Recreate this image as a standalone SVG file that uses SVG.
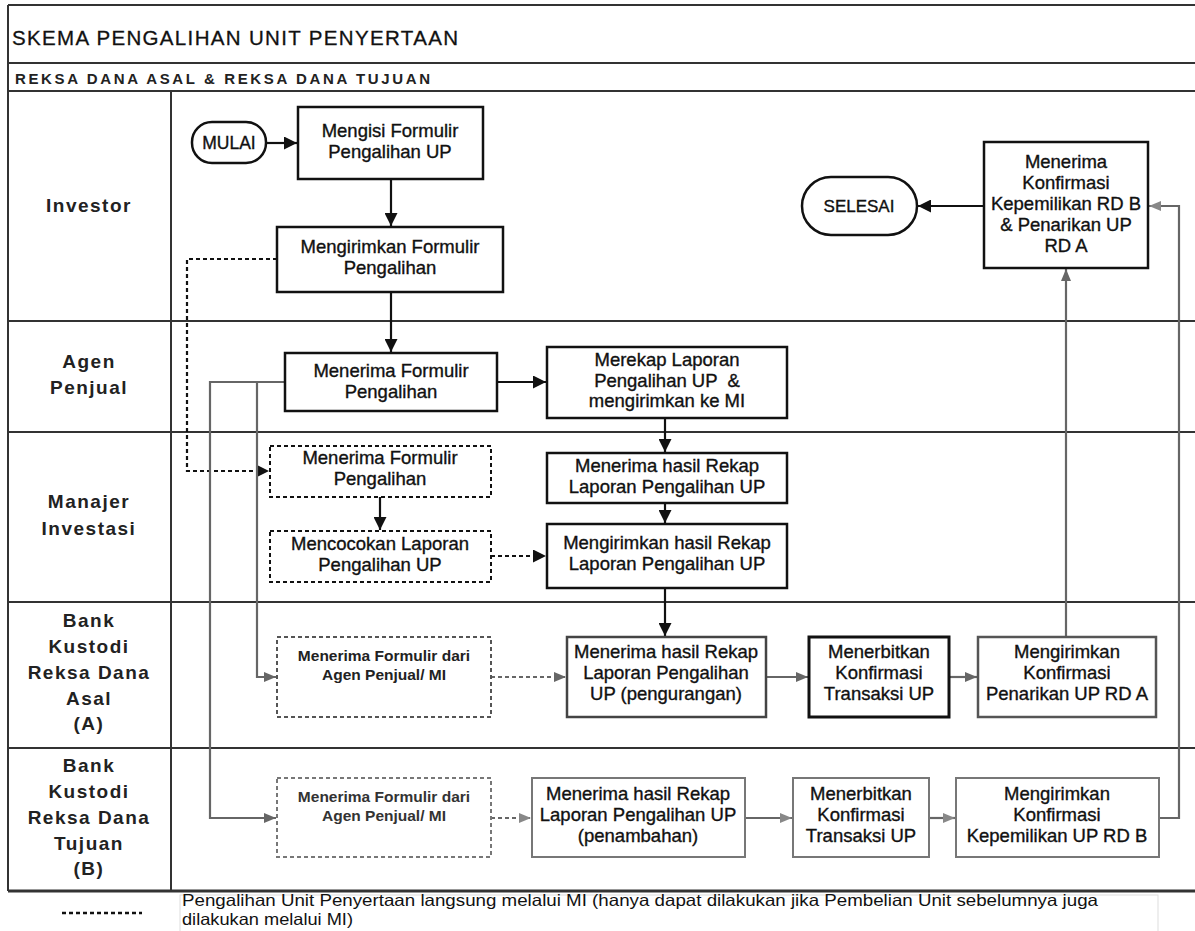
<svg xmlns="http://www.w3.org/2000/svg" width="1195" height="931" viewBox="0 0 1195 931">
<style>
text{font-family:"Liberation Sans",Arial,sans-serif;fill:#111}
.lane{font-size:19px;font-weight:bold;letter-spacing:1.5px;text-anchor:middle;fill:#222}
.t{font-size:18.5px;text-anchor:middle;stroke:#111;stroke-width:0.35px}
.ts{font-size:15.5px;font-weight:bold;text-anchor:middle;fill:#222}
.frame{stroke:#333;stroke-width:2;fill:none}
.box{fill:#fff;stroke:#111;stroke-width:2.5}
.dbox{fill:#fff;stroke:#111;stroke-width:2;stroke-dasharray:4,3}
.c{fill:none;stroke:#111;stroke-width:2.2}
.g{fill:none;stroke:#666;stroke-width:2.2}
.dash{stroke-dasharray:4,3}
</style>
<defs>
<marker id="ab" markerUnits="userSpaceOnUse" markerWidth="13" markerHeight="13" refX="13" refY="6.5" orient="auto"><path d="M0,0 L13,6.5 L0,13 z" fill="#111"/></marker>
<marker id="ag" markerUnits="userSpaceOnUse" markerWidth="12" markerHeight="12" refX="12" refY="6" orient="auto"><path d="M0,1 L12,6 L0,11 z" fill="#666"/></marker>
<marker id="ag2" markerUnits="userSpaceOnUse" markerWidth="12" markerHeight="12" refX="12" refY="6" orient="auto"><path d="M0,1 L12,6 L0,11 z" fill="#888"/></marker>
</defs>
<rect width="1195" height="931" fill="#fff"/>
<g id="frame">
<path class="frame" d="M8,5 H1195 M8,5 V891 M8,63 H1195 M8,91 H1195 M8,321 H1195 M8,432 H1195 M8,602 H1195 M8,748 H1195 M171,91 V891"/>
<path d="M8,891 H1195" stroke="#333" stroke-width="3"/>
<text x="12" y="45" style="font-size:20.5px;stroke:#111;stroke-width:0.3px" textLength="446" lengthAdjust="spacing">SKEMA PENGALIHAN UNIT PENYERTAAN</text>
<text x="15" y="84" style="font-size:15px;font-weight:bold;fill:#222" textLength="415" lengthAdjust="spacing">REKSA DANA ASAL &amp; REKSA DANA TUJUAN</text>
<text class="lane" x="89" y="212">Investor</text>
<text class="lane" x="89" y="368">Agen</text>
<text class="lane" x="89" y="394">Penjual</text>
<text class="lane" x="89" y="508">Manajer</text>
<text class="lane" x="89" y="535">Investasi</text>
<text class="lane" x="89" y="627">Bank</text>
<text class="lane" x="89" y="653">Kustodi</text>
<text class="lane" x="89" y="679">Reksa Dana</text>
<text class="lane" x="89" y="705">Asal</text>
<text class="lane" x="89" y="730">(A)</text>
<text class="lane" x="89" y="772">Bank</text>
<text class="lane" x="89" y="798">Kustodi</text>
<text class="lane" x="89" y="824">Reksa Dana</text>
<text class="lane" x="89" y="850">Tujuan</text>
<text class="lane" x="89" y="875">(B)</text>
</g>
<g id="connectors">
<path class="c" d="M266,143 H297" marker-end="url(#ab)"/>
<path class="c" d="M391,179 V226" marker-end="url(#ab)"/>
<path class="c" d="M391,292 V352" marker-end="url(#ab)"/>
<path class="c" d="M497,382 H546" marker-end="url(#ab)"/>
<path class="c" d="M665,418 V452" marker-end="url(#ab)"/>
<path class="c" d="M665,503 V523" marker-end="url(#ab)"/>
<path class="c" d="M665,588 V636" marker-end="url(#ab)"/>
<path class="c dash" d="M277,259 H187 V471 H269" marker-end="url(#ab)"/>
<path class="c" d="M380,497 V530" marker-end="url(#ab)"/>
<path class="c dash" d="M491,556 H546" marker-end="url(#ab)"/>
<path class="g" d="M285,382 H210 V818 H276" marker-end="url(#ag)"/>
<path class="g" d="M257,382 V677 H276" marker-end="url(#ag)"/>
<path class="g dash" d="M491,677 H566" marker-end="url(#ag)"/>
<path class="g" d="M766,677 H808" marker-end="url(#ag)"/>
<path class="g" d="M949,677 H977" marker-end="url(#ag)"/>
<path class="g" d="M1066,637 V269" stroke="#555" marker-end="url(#ag)"/>
<path class="g dash" d="M491,818 H531" stroke="#888" marker-end="url(#ag2)"/>
<path class="g" d="M745,818 H792" stroke="#888" marker-end="url(#ag2)"/>
<path class="g" d="M929,818 H955" stroke="#888" marker-end="url(#ag2)"/>
<path class="g" d="M1159,818 H1179 V206 H1149" stroke="#888" marker-end="url(#ag2)"/>
<path class="c" d="M984,206 H918" marker-end="url(#ab)"/>
</g>
<g id="mulai">
<rect x="192" y="122" width="74" height="41" rx="20" class="box"/>
<text class="t" x="229" y="149" style="font-size:17.5px">MULAI</text>
</g>
<g id="mengisi">
<rect x="298" y="107" width="185" height="72" class="box"/>
<text class="t" x="390" y="137">Mengisi Formulir</text>
<text class="t" x="390" y="158">Pengalihan UP</text>
</g>
<g id="mengirimkan">
<rect x="277" y="227" width="226" height="65" class="box"/>
<text class="t" x="390" y="253">Mengirimkan Formulir</text>
<text class="t" x="390" y="274">Pengalihan</text>
</g>
<g id="agen-menerima">
<rect x="285" y="353" width="212" height="58" class="box"/>
<text class="t" x="391" y="377">Menerima Formulir</text>
<text class="t" x="391" y="398">Pengalihan</text>
</g>
<g id="merekap">
<rect x="547" y="347" width="240" height="71" class="box"/>
<text class="t" x="667" y="366">Merekap Laporan</text>
<text class="t" x="667" y="387" xml:space="preserve">Pengalihan UP  &amp;</text>
<text class="t" x="667" y="407">mengirimkan ke MI</text>
</g>
<g id="mi-menerima-rekap">
<rect x="547" y="453" width="240" height="50" class="box"/>
<text class="t" x="667" y="472">Menerima hasil Rekap</text>
<text class="t" x="667" y="493">Laporan Pengalihan UP</text>
</g>
<g id="mi-mengirimkan-rekap">
<rect x="547" y="524" width="240" height="64" class="box"/>
<text class="t" x="667" y="549">Mengirimkan hasil Rekap</text>
<text class="t" x="667" y="570">Laporan Pengalihan UP</text>
</g>
<g id="mi-menerima-formulir">
<rect x="270" y="446" width="221" height="51" class="dbox"/>
<text class="t" x="380" y="464">Menerima Formulir</text>
<text class="t" x="380" y="485">Pengalihan</text>
</g>
<g id="mi-mencocokan">
<rect x="270" y="531" width="221" height="51" class="dbox"/>
<text class="t" x="380" y="550">Mencocokan Laporan</text>
<text class="t" x="380" y="571">Pengalihan UP</text>
</g>
<g id="ba-menerima-formulir">
<rect x="277" y="637" width="214" height="80" class="dbox" style="stroke:#555"/>
<text class="ts" x="384" y="661">Menerima Formulir dari</text>
<text class="ts" x="384" y="680">Agen Penjual/ MI</text>
</g>
<g id="ba-menerima-rekap">
<rect x="567" y="637" width="199" height="80" class="box" style="stroke:#444"/>
<text class="t" x="666" y="658">Menerima hasil Rekap</text>
<text class="t" x="666" y="679">Laporan Pengalihan</text>
<text class="t" x="666" y="700">UP (pengurangan)</text>
</g>
<g id="ba-menerbitkan">
<rect x="809" y="637" width="140" height="80" class="box" style="stroke-width:3"/>
<text class="t" x="879" y="658">Menerbitkan</text>
<text class="t" x="879" y="679">Konfirmasi</text>
<text class="t" x="879" y="700">Transaksi UP</text>
</g>
<g id="ba-mengirimkan">
<rect x="978" y="637" width="178" height="80" class="box" style="stroke:#555"/>
<text class="t" x="1067" y="658">Mengirimkan</text>
<text class="t" x="1067" y="679">Konfirmasi</text>
<text class="t" x="1067" y="700">Penarikan UP RD A</text>
</g>
<g id="bb-menerima-formulir">
<rect x="277" y="778" width="214" height="79" class="dbox" style="stroke:#777"/>
<text class="ts" x="384" y="802" style="fill:#333">Menerima Formulir dari</text>
<text class="ts" x="384" y="821" style="fill:#333">Agen Penjual/ MI</text>
</g>
<g id="bb-menerima-rekap">
<rect x="532" y="778" width="213" height="79" class="box" style="stroke:#777;stroke-width:2"/>
<text class="t" x="638" y="800">Menerima hasil Rekap</text>
<text class="t" x="638" y="821">Laporan Pengalihan UP</text>
<text class="t" x="638" y="842">(penambahan)</text>
</g>
<g id="bb-menerbitkan">
<rect x="793" y="778" width="136" height="79" class="box" style="stroke:#777;stroke-width:2"/>
<text class="t" x="861" y="800">Menerbitkan</text>
<text class="t" x="861" y="821">Konfirmasi</text>
<text class="t" x="861" y="842">Transaksi UP</text>
</g>
<g id="bb-mengirimkan">
<rect x="956" y="778" width="203" height="79" class="box" style="stroke:#777;stroke-width:2"/>
<text class="t" x="1057" y="800">Mengirimkan</text>
<text class="t" x="1057" y="821">Konfirmasi</text>
<text class="t" x="1057" y="842">Kepemilikan UP RD B</text>
</g>
<g id="investor-menerima">
<rect x="984" y="142" width="164" height="126" class="box"/>
<text class="t" x="1066" y="168">Menerima</text>
<text class="t" x="1066" y="189">Konfirmasi</text>
<text class="t" x="1066" y="210">Kepemilikan RD B</text>
<text class="t" x="1066" y="231">&amp; Penarikan UP</text>
<text class="t" x="1066" y="252">RD A</text>
</g>
<g id="selesai">
<rect x="802" y="177" width="115" height="58" rx="29" class="box"/>
<text class="t" x="859" y="212" style="font-size:17px">SELESAI</text>
</g>
<g id="legend">
<path d="M62,913 H142" stroke="#111" stroke-width="2.5" stroke-dasharray="4,3"/>
<rect x="180" y="895" width="978" height="40" fill="none" stroke="#ddd" stroke-width="1"/>
<text x="182" y="906" style="font-size:16.5px" textLength="916" lengthAdjust="spacingAndGlyphs">Pengalihan Unit Penyertaan langsung melalui MI (hanya dapat dilakukan jika Pembelian Unit sebelumnya juga</text>
<text x="182" y="925" style="font-size:16.5px" textLength="171" lengthAdjust="spacingAndGlyphs">dilakukan melalui MI)</text>
</g>
</svg>
